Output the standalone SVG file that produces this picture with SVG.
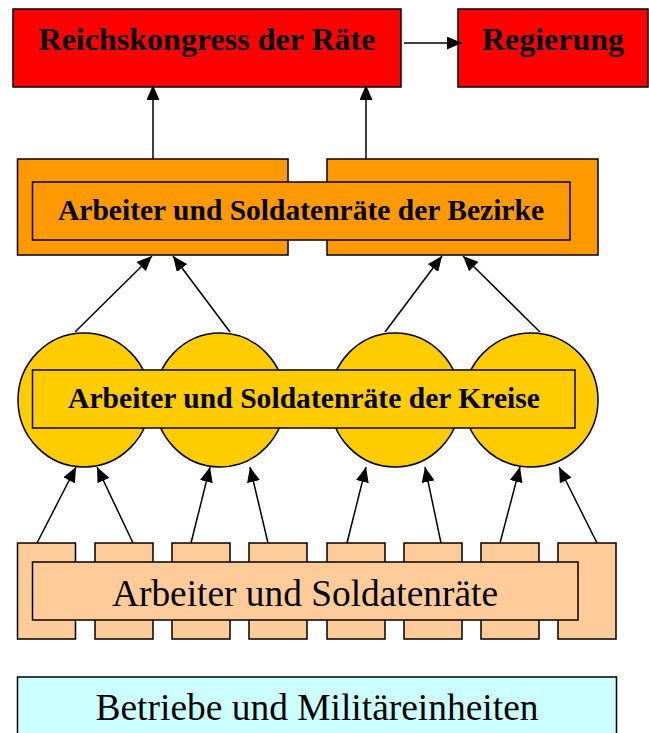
<svg xmlns="http://www.w3.org/2000/svg" width="649" height="733" viewBox="0 0 649 733">
<defs>
<style>
.bx{stroke:#000;stroke-width:1.5}
.red{fill:#FF0000}
.org{fill:#FF9900}
.yel{fill:#FFCC00}
.pch{fill:#FFCC99}
.cyn{fill:#CCFFFF}
.b{font-family:"Liberation Serif","Times New Roman",serif;font-weight:bold;fill:#000}
.r{font-family:"Liberation Serif","Times New Roman",serif;fill:#000}
.ar{stroke:#000;stroke-width:1.5;fill:none;marker-end:url(#ah)}
</style>
<marker id="ah" markerWidth="15" markerHeight="13" refX="15" refY="6.5" orient="auto" markerUnits="userSpaceOnUse">
<path d="M0,0 L15,6.5 L0,13 Z" fill="#000"/>
</marker>
</defs>
<rect width="649" height="733" fill="#fff"/>

<g id="reichskongress">
<rect class="bx red" x="13" y="9" width="388" height="78"/>
<text class="b" x="207" y="50" font-size="32" text-anchor="middle" textLength="337" lengthAdjust="spacingAndGlyphs">Reichskongress der Räte</text>
</g>
<g id="regierung">
<rect class="bx red" x="458" y="9" width="190" height="78"/>
<text class="b" x="553" y="50" font-size="32" text-anchor="middle" textLength="142" lengthAdjust="spacingAndGlyphs">Regierung</text>
</g>

<g id="bezirke">
<rect class="bx org" x="17.5" y="159" width="270.5" height="96"/>
<rect class="bx org" x="327" y="159" width="271" height="96"/>
<rect class="bx org" x="32.5" y="182" width="537.5" height="58"/>
<text class="b" x="301" y="220" font-size="29" text-anchor="middle" textLength="486" lengthAdjust="spacingAndGlyphs">Arbeiter und Soldatenräte der Bezirke</text>
</g>

<g id="kreise">
<ellipse class="bx yel" cx="84" cy="400" rx="66" ry="67"/>
<ellipse class="bx yel" cx="220" cy="400" rx="65" ry="67"/>
<ellipse class="bx yel" cx="395" cy="400" rx="65" ry="67"/>
<ellipse class="bx yel" cx="531" cy="400" rx="67" ry="67"/>
<rect class="bx yel" x="32.5" y="370" width="542.5" height="58"/>
<text class="b" x="304" y="408" font-size="29" text-anchor="middle" textLength="472" lengthAdjust="spacingAndGlyphs">Arbeiter und Soldatenräte der Kreise</text>
</g>

<g id="raete">
<rect class="bx pch" x="17.5" y="543" width="58" height="96"/>
<rect class="bx pch" x="95" y="543" width="58" height="96"/>
<rect class="bx pch" x="172" y="543" width="58" height="96"/>
<rect class="bx pch" x="249" y="543" width="58" height="96"/>
<rect class="bx pch" x="327" y="543" width="58" height="96"/>
<rect class="bx pch" x="404" y="543" width="58" height="96"/>
<rect class="bx pch" x="481" y="543" width="58" height="96"/>
<rect class="bx pch" x="558" y="543" width="58" height="96"/>
<rect class="bx pch" x="32.5" y="562" width="545.5" height="58"/>
<text class="r" x="305" y="606" font-size="37" text-anchor="middle" textLength="386" lengthAdjust="spacingAndGlyphs">Arbeiter und Soldatenräte</text>
</g>

<g id="betriebe">
<rect class="bx cyn" x="17.5" y="677" width="599" height="70"/>
<text class="r" x="317" y="720" font-size="37" text-anchor="middle" textLength="443" lengthAdjust="spacingAndGlyphs">Betriebe und Militäreinheiten</text>
</g>

<g id="connectors">
<line class="ar" x1="404" y1="43" x2="462" y2="43"/>
<line class="ar" x1="153" y1="159" x2="153" y2="85"/>
<line class="ar" x1="366" y1="159" x2="366" y2="85"/>
<line class="ar" x1="75" y1="332" x2="152" y2="256"/>
<line class="ar" x1="230" y1="332" x2="173" y2="256"/>
<line class="ar" x1="385" y1="332" x2="442" y2="256"/>
<line class="ar" x1="540" y1="332" x2="463" y2="256"/>
<line class="ar" x1="37" y1="543" x2="76" y2="467"/>
<line class="ar" x1="133" y1="543" x2="97" y2="467"/>
<line class="ar" x1="191" y1="543" x2="210" y2="467"/>
<line class="ar" x1="268" y1="543" x2="250" y2="467"/>
<line class="ar" x1="347" y1="543" x2="366" y2="467"/>
<line class="ar" x1="441" y1="543" x2="425" y2="467"/>
<line class="ar" x1="500" y1="543" x2="520" y2="467"/>
<line class="ar" x1="597" y1="543" x2="559" y2="467"/>
</g>
</svg>
